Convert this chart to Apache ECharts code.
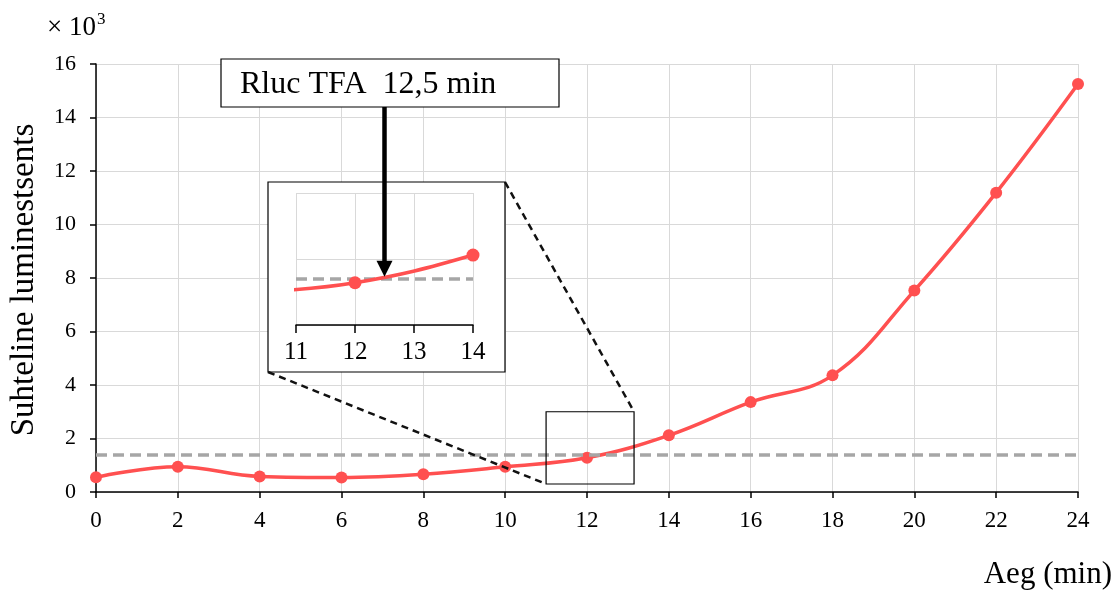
<!DOCTYPE html>
<html>
<head>
<meta charset="utf-8">
<script src="https://cdn.jsdelivr.net/npm/echarts@6/dist/echarts.min.js"></script>
<style>html,body{margin:0;padding:0;background:#fff}#c{width:1116px;height:590px}</style>
</head>
<body>
<div id="c"></div>
<script>
// ---- data ----
var times = [0, 2, 4, 6, 8, 10, 12, 14, 16, 18, 20, 22, 24];
var luminescence = [0.55, 0.94, 0.58, 0.54, 0.66, 0.94, 1.28, 2.12, 3.36, 4.36, 7.53, 11.19, 15.25];
var threshold = 1.4;            // dashed threshold level (×10^3)
var tfaTime = 12.5;             // Rluc TFA time (min)
var insetX = [11, 14];          // inset x range
var insetY = [0, 4];            // inset y range
var zoomX = [11, 13.15];        // zoom rectangle on the main chart
var zoomY = [0.3, 3.0];
var annotationText = 'Rluc TFA  12,5 min';
var xTitle = 'Aeg (min)';
var yTitle = 'Suhteline luminestsents';

var FONT = '"Liberation Serif", "Times New Roman", serif';
var RED = '#FF5050';
var GRID = '#d9d9d9';

var pts = times.map(function (t, i) { return [t, luminescence[i]]; });

var chart = echarts.init(document.getElementById('c'), null, { renderer: 'canvas' });

var option = {
  animation: false,
  backgroundColor: '#fff',
  grid: [
    { left: 96, right: 38, top: 64, bottom: 98, containLabel: false, outerBoundsMode: 'none' },
    { left: 296, top: 193, width: 177, height: 132, z: 2, containLabel: false, outerBoundsMode: 'none' }
  ],
  xAxis: [
    {
      gridIndex: 0, type: 'value', min: 0, max: 24, interval: 2,
      axisLine: { lineStyle: { color: '#000', width: 1.5 } },
      axisTick: { show: true, length: 6, lineStyle: { color: '#000', width: 1.5 } },
      axisLabel: { color: '#000', fontFamily: FONT, fontSize: 23, margin: 17 },
      splitLine: { show: true, lineStyle: { color: GRID, width: 1 } }
    },
    {
      gridIndex: 1, type: 'value', min: insetX[0], max: insetX[1], interval: 1, z: 3,
      axisLine: { lineStyle: { color: '#000', width: 1.5 } },
      axisTick: { show: true, length: 8, lineStyle: { color: '#000', width: 1.5 } },
      axisLabel: { color: '#000', fontFamily: FONT, fontSize: 25, margin: 15 },
      splitLine: { show: true, lineStyle: { color: GRID, width: 1 } }
    }
  ],
  yAxis: [
    {
      gridIndex: 0, type: 'value', min: 0, max: 16, interval: 2,
      axisLine: { show: true, lineStyle: { color: '#000', width: 1.5 } },
      axisTick: { show: true, length: 6, lineStyle: { color: '#000', width: 1.5 } },
      axisLabel: { color: '#000', fontFamily: FONT, fontSize: 22, margin: 20 },
      splitLine: { show: true, lineStyle: { color: GRID, width: 1 } }
    },
    {
      gridIndex: 1, type: 'value', min: insetY[0], max: insetY[1], interval: 2, z: 3,
      axisLine: { show: false },
      axisTick: { show: false },
      axisLabel: { show: false },
      splitLine: { show: true, lineStyle: { color: GRID, width: 1 } }
    }
  ],
  series: [
    {
      type: 'line', xAxisIndex: 0, yAxisIndex: 0, data: pts, z: 3,
      smooth: 0.4, symbol: 'circle', symbolSize: 12,
      lineStyle: { color: RED, width: 3.5 }, itemStyle: { color: RED },
      markLine: {
        silent: true, symbol: 'none', label: { show: false },
        lineStyle: { color: '#a6a6a6', width: 3.5, type: [11, 6] },
        data: [{ yAxis: threshold }]
      }
    },
    {
      type: 'line', xAxisIndex: 1, yAxisIndex: 1, data: pts, z: 5, clip: true,
      smooth: 0.4, symbol: 'circle', symbolSize: 13,
      lineStyle: { color: RED, width: 3.5 }, itemStyle: { color: RED },
      markLine: {
        silent: true, symbol: 'none', label: { show: false },
        lineStyle: { color: '#a6a6a6', width: 3.5, type: [11, 6] },
        data: [{ yAxis: threshold }]
      }
    }
  ]
};
chart.setOption(option);

function px(gi, x, y) { return chart.convertToPixel({ xAxisIndex: gi, yAxisIndex: gi }, [x, y]); }

var zTL = px(0, zoomX[0], zoomY[1]);
var zBR = px(0, zoomX[1], zoomY[0]);
var iTL = px(1, insetX[0], insetY[1]);
var iBR = px(1, insetX[1], insetY[0]);
// inset outer frame around the small plot (with its labels)
var box = { x1: iTL[0] - 28, y1: iTL[1] - 11, x2: iBR[0] + 32, y2: iBR[1] + 47 };
var tip = px(1, tfaTime, threshold);
var ann = { x1: 221, y1: 59, x2: 559, y2: 107 };

chart.setOption({
  graphic: [
    { type: 'rect', z: 1, silent: true,
      shape: { x: box.x1, y: box.y1, width: box.x2 - box.x1, height: box.y2 - box.y1 },
      style: { fill: '#fff', stroke: '#000', lineWidth: 1.2 } },
    { type: 'rect', z: 10, silent: true,
      shape: { x: zTL[0], y: zTL[1], width: zBR[0] - zTL[0], height: zBR[1] - zTL[1] },
      style: { fill: 'none', stroke: '#000', lineWidth: 1.2 } },
    { type: 'line', z: 10, silent: true,
      shape: { x1: box.x2, y1: box.y1, x2: zBR[0], y2: zTL[1] },
      style: { stroke: '#111', lineWidth: 2.5, lineDash: [7, 5] } },
    { type: 'line', z: 10, silent: true,
      shape: { x1: box.x1, y1: box.y2, x2: zTL[0], y2: zBR[1] },
      style: { stroke: '#111', lineWidth: 2.5, lineDash: [7, 5] } },
    { type: 'rect', z: 10, silent: true,
      shape: { x: ann.x1, y: ann.y1, width: ann.x2 - ann.x1, height: ann.y2 - ann.y1 },
      style: { fill: '#fff', stroke: '#000', lineWidth: 1.2 } },
    { type: 'text', z: 11, silent: true, x: 240, y: 85,
      style: { text: annotationText, font: '32px ' + FONT, fill: '#000', verticalAlign: 'middle', align: 'left' } },
    { type: 'line', z: 11, silent: true,
      shape: { x1: tip[0], y1: ann.y2, x2: tip[0], y2: tip[1] - 14 },
      style: { stroke: '#000', lineWidth: 4.5 } },
    { type: 'polygon', z: 11, silent: true,
      shape: { points: [[tip[0] - 8, tip[1] - 18], [tip[0] + 8, tip[1] - 18], [tip[0], tip[1] - 2]] },
      style: { fill: '#000' } },
    { type: 'text', z: 11, silent: true, x: 47, y: 28,
      style: { text: '× 10', font: '27px ' + FONT, fill: '#000', verticalAlign: 'middle', align: 'left' } },
    { type: 'text', z: 11, silent: true, x: 97, y: 20,
      style: { text: '3', font: '17px ' + FONT, fill: '#000', verticalAlign: 'middle', align: 'left' } },
    // axis titles
    { type: 'text', z: 11, silent: true, x: 1112, y: 575,
      style: { text: xTitle, font: '31px ' + FONT, fill: '#000', verticalAlign: 'middle', align: 'right' } },
    { type: 'text', z: 11, silent: true, x: 24, y: 280, rotation: Math.PI / 2,
      style: { text: yTitle, font: '33px ' + FONT, fill: '#000', verticalAlign: 'middle', align: 'center' } }
  ]
});
</script>
</body>
</html>
